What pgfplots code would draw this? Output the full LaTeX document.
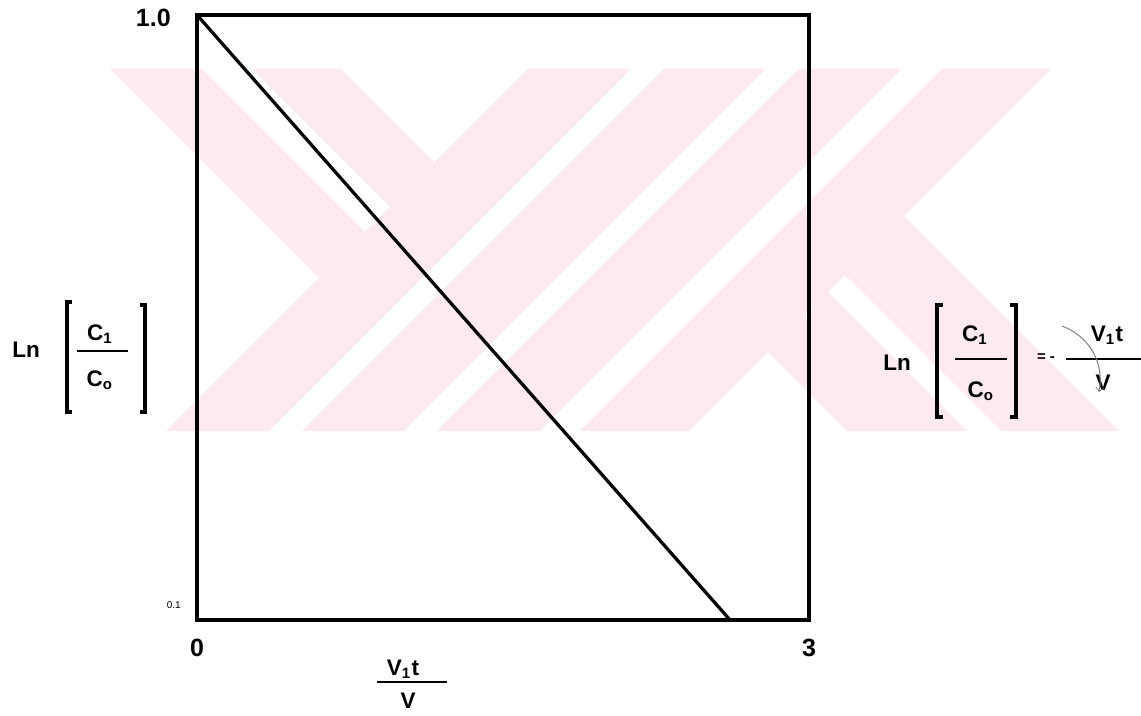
\documentclass[border=0pt]{standalone}
\usepackage{fontspec}
\setmainfont{Liberation Sans}
\usepackage{pgfplots}
\pgfplotsset{compat=1.18}
\definecolor{wmpink}{RGB}{253,234,238}

\begin{document}
\begin{tikzpicture}
\path[use as bounding box] (0,0) rectangle (456.4pt,286pt);
% watermark behind the chart (pixel coordinates, y downwards)
\begin{scope}[x=0.4pt,y=-0.4pt,yshift=286pt]
  \fill[wmpink] (110,69) -- (202,69) -- (364.5,231.5) -- (318.5,277.5) -- cycle;
  \fill[wmpink] (252,69) -- (341,69) -- (434,162) -- (389.5,206.5) -- cycle;
  \fill[wmpink] (528,69) -- (631,69) -- (269,431) -- (166,431) -- cycle;
  \fill[wmpink] (664,69) -- (766,69) -- (404,431) -- (302,431) -- cycle;
  \fill[wmpink] (799,69) -- (902,69) -- (540,431) -- (437,431) -- cycle;
  \fill[wmpink] (942,69) -- (1051,69) -- (689,431) -- (580,431) -- cycle;
  \fill[wmpink] (768,352) -- (828,292) -- (967,431) -- (847,431) -- cycle;
  \fill[wmpink] (845,275) -- (904,216) -- (1119,431) -- (1001,431) -- cycle;
\end{scope}

\begin{axis}[
  at={(78.8pt,38pt)}, anchor=south west,
  scale only axis, width=244.8pt, height=242pt,
  xmin=0, xmax=3, ymin=0.1, ymax=1, ymode=log,
  xtick={0,3}, xticklabels={0,\raisebox{-3.5pt}{3}},
  ytick={1}, yticklabels={1.0},
  extra y ticks={0.1}, extra y tick labels={0.1},
  extra y tick style={yticklabel style={font=\fontsize{4}{4}\selectfont, xshift=4pt, yshift=7pt}},
  tick style={draw=none}, minor tick num=0,
  axis line style={line width=1.5pt},
  ticklabel style={font=\bfseries\fontsize{10}{12}\selectfont},
  xticklabel style={yshift=-4pt},
  yticklabel style={xshift=-7pt, yshift=-1pt},
]
\addplot[black, line width=1.3pt] coordinates {(0,1) (2.613,0.1)};
\end{axis}

% labels (pixel coordinates, y downwards)
\begin{scope}[x=0.4pt,y=-0.4pt,yshift=286pt,
  font=\bfseries\fontsize{9}{10}\selectfont, inner sep=0pt]
  % y label
  \node at (26,350) {Ln};
  \draw[line width=1.5pt] (72,302) -- (67,302) -- (67,412) -- (72,412);
  \node at (100,334) {C\textsubscript{1}};
  \draw[line width=1pt] (77,351) -- (128,351);
  \node at (100,380) {C\textsubscript{o}};
  \draw[line width=1.5pt] (140,305) -- (145,305) -- (145,412) -- (140,412);
  % x label
  \node at (403,669) {V\textsubscript{1}t};
  \draw[line width=1pt] (377,682) -- (447,682);
  \node at (408,701) {V};
  % equation on the right
  \node at (897,363) {Ln};
  \draw[line width=1.5pt] (943,305) -- (937,305) -- (937,417) -- (943,417);
  \node at (975,335) {C\textsubscript{1}};
  \draw[line width=1pt] (955,359) -- (1007,359);
  \node at (981,391) {C\textsubscript{o}};
  \draw[line width=1.5pt] (1010,305) -- (1016,305) -- (1016,417) -- (1010,417);
  \node at (1046,358) {\fontsize{6}{6}\selectfont = -};
  \draw[line width=1pt] (1066,359) -- (1141,359);
  \node at (1107,335) {V\textsubscript{1}t};
  \node at (1103,383) {V};
  \draw[gray, thin, ->] (1062,326) to[bend left=40] (1099,392);
\end{scope}
\end{tikzpicture}
\end{document}
